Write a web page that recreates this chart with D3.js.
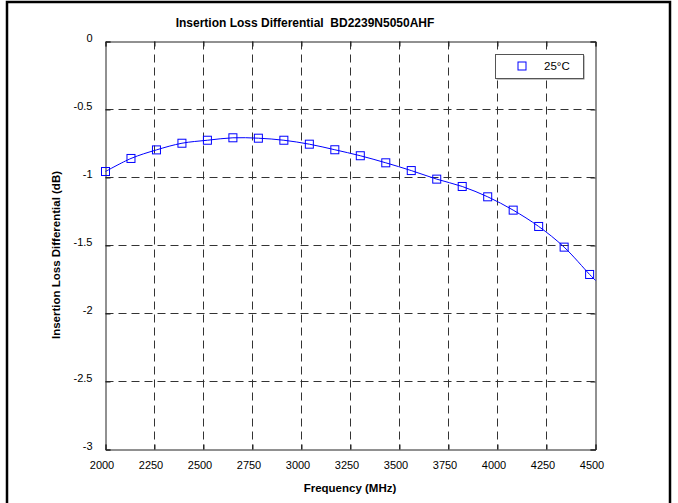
<!DOCTYPE html>
<html>
<head>
<meta charset="utf-8">
<script src="https://cdn.jsdelivr.net/npm/d3@7"></script>
<style>
  body { margin: 0; background: #fff; }
  text { font-family: "Liberation Sans", Arial, sans-serif; }
</style>
</head>
<body>
<div id="okvir"></div>
<script>
// measured points (25°C)
const freq = [2000, 2130, 2260, 2390, 2520, 2650, 2780, 2910, 3040, 3170,
              3300, 3430, 3560, 3690, 3820, 3950, 4080, 4210, 4340, 4470];
const loss = [-0.956, -0.860, -0.797, -0.748, -0.726, -0.708, -0.711, -0.726, -0.755, -0.796,
              -0.840, -0.892, -0.949, -1.012, -1.066, -1.142, -1.240, -1.360, -1.512, -1.713];
// fitted curve runs on to the right edge
const curveFreq = freq.concat([4500]);
const curveLoss = loss.concat([-1.757]);

const xTicks = [2000, 2250, 2500, 2750, 3000, 3250, 3500, 3750, 4000, 4250, 4500];
const yTicks = [0, -0.5, -1, -1.5, -2, -2.5, -3];
const yTickLabels = ["0", "-0.5", "-1", "-1.5", "-2", "-2.5", "-3"];
const legendLabel = "25°C";

const dim = {
    width: 678,
    height: 503,
    margin: { top: 41, right: 83, bottom: 54, left: 105 }
};
dim.w = dim.width - dim.margin.left - dim.margin.right;
dim.h = dim.height - dim.margin.top - dim.margin.bottom;

const svg = d3.select("#okvir").append("svg")
    .attr("width", dim.width)
    .attr("height", dim.height);

// outer frame of the figure
svg.append("path")
    .attr("d", "M7,504 L7,2 L670,2 L670,504")
    .attr("fill", "none")
    .attr("stroke", "#000")
    .attr("stroke-width", 2.5);

const g = svg.append("g")
    .attr("transform", `translate(${dim.margin.left + 0.5},${dim.margin.top + 0.5})`);

const x = d3.scaleLinear().domain([2000, 4500]).range([0, dim.w]);
const y = d3.scaleLinear().domain([-3, 0]).range([dim.h, 0]);

// grid
g.append("g").selectAll("line")
    .data(xTicks.slice(1, -1))
    .join("line")
    .attr("x1", d => Math.round(x(d))).attr("x2", d => Math.round(x(d)))
    .attr("y1", 0).attr("y2", dim.h)
    .attr("stroke", "#333").attr("stroke-dasharray", "8,5");

g.append("g").selectAll("line")
    .data(yTicks.slice(1, -1))
    .join("line")
    .attr("y1", d => Math.round(y(d))).attr("y2", d => Math.round(y(d)))
    .attr("x1", 0).attr("x2", dim.w)
    .attr("stroke", "#333").attr("stroke-dasharray", "8,5");

// axes, ticks pointing inwards on all four sides
const fmtY = d => yTickLabels[yTicks.indexOf(d)];
const xAxis = g.append("g")
    .attr("transform", `translate(0,${dim.h})`)
    .call(d3.axisBottom(x).tickValues(xTicks).tickSize(-5).tickPadding(12).tickFormat(d3.format("d")));
const yAxis = g.append("g")
    .call(d3.axisLeft(y).tickValues(yTicks).tickSize(-5).tickPadding(13).tickFormat(fmtY));
g.append("g")
    .call(d3.axisTop(x).tickValues(xTicks).tickSize(-5).tickFormat(""));
g.append("g")
    .attr("transform", `translate(${dim.w},0)`)
    .call(d3.axisRight(y).tickValues(yTicks).tickSize(-5).tickFormat(""));

g.selectAll(".domain").attr("stroke", "#222");
g.selectAll(".tick line").attr("stroke", "#222");
g.selectAll(".tick text")
    .attr("fill", "#000")
    .style("font-size", "11px")
    .style("font-family", "'Liberation Sans', Arial, sans-serif");
xAxis.selectAll(".tick text").attr("dx", "-4px");
yAxis.selectAll(".tick text").attr("dy", "0.02em");

// curve + markers
const line = d3.line()
    .x((d, i) => x(curveFreq[i]))
    .y(d => y(d))
    .curve(d3.curveCatmullRom.alpha(0.5));

g.append("path")
    .datum(curveLoss)
    .attr("d", line)
    .attr("fill", "none")
    .attr("stroke", "#0000ff")
    .attr("stroke-width", 1);

const ms = 8;
g.append("g").selectAll("rect")
    .data(loss)
    .join("rect")
    .attr("x", (d, i) => x(freq[i]) - ms / 2)
    .attr("y", d => y(d) - ms / 2)
    .attr("width", ms).attr("height", ms)
    .attr("fill", "none")
    .attr("stroke", "#0000ff")
    .attr("stroke-width", 1);

// legend
const leg = svg.append("g");
leg.append("rect")
    .attr("x", 496.5).attr("y", 55.5).attr("width", 88).attr("height", 24)
    .attr("fill", "#888");
leg.append("rect")
    .attr("x", 495.5).attr("y", 54.5).attr("width", 88).attr("height", 24)
    .attr("fill", "#fff").attr("stroke", "#555");
leg.append("rect")
    .attr("x", 522 - ms / 2).attr("y", 66 - ms / 2)
    .attr("width", ms).attr("height", ms)
    .attr("fill", "none").attr("stroke", "#0000ff");
leg.append("text")
    .attr("x", 544).attr("y", 70)
    .style("font-size", "11.5px")
    .text(legendLabel);

// titles
svg.append("text")
    .attr("x", 305).attr("y", 27)
    .attr("text-anchor", "middle")
    .style("font-size", "12px").style("font-weight", "bold")
    .style("white-space", "pre")
    .text("Insertion Loss Differential  BD2239N5050AHF");

svg.append("text")
    .attr("x", 350).attr("y", 492)
    .attr("text-anchor", "middle")
    .style("font-size", "11.5px").style("font-weight", "bold")
    .text("Frequency (MHz)");

svg.append("text")
    .attr("transform", `translate(60,${dim.margin.top + dim.h / 2 + 10}) rotate(-90)`)
    .attr("text-anchor", "middle")
    .style("font-size", "11.5px").style("font-weight", "bold")
    .text("Insertion Loss Differential (dB)");
</script>
</body>
</html>
